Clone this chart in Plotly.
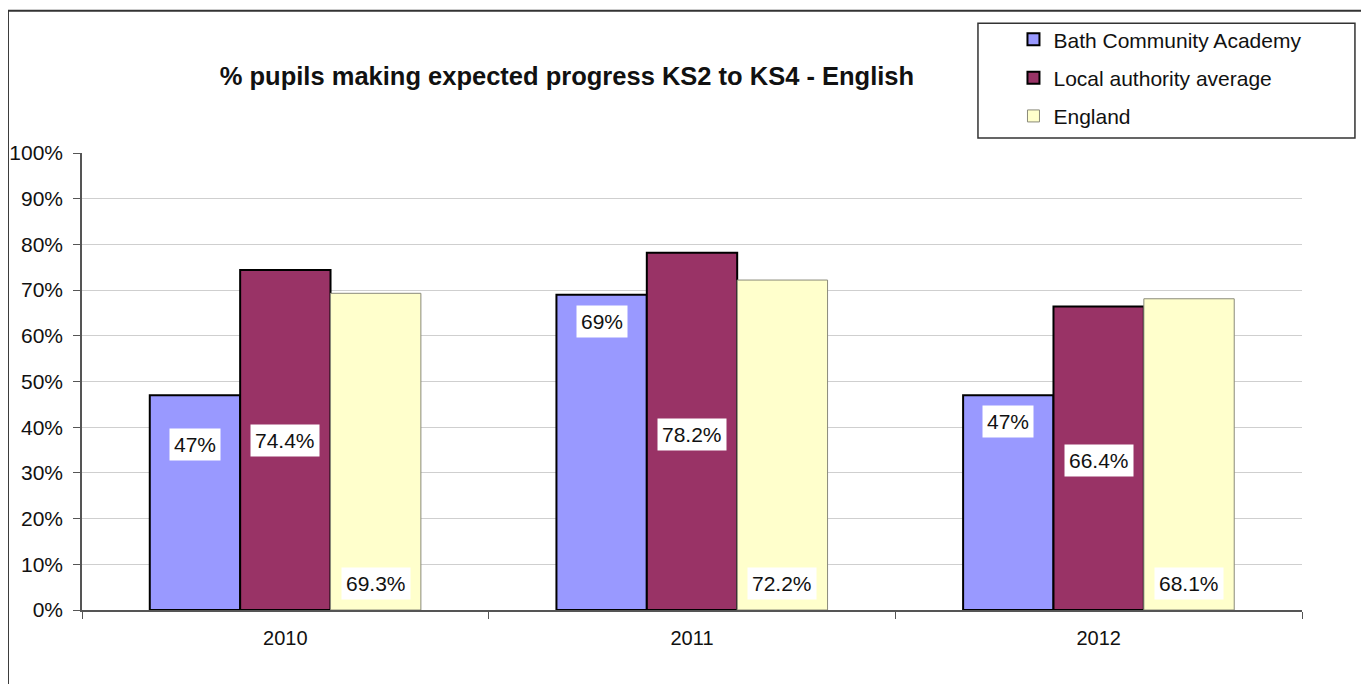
import plotly.graph_objects as go

# data
years = ["2010", "2011", "2012"]
bath = [47, 69, 47]
local_avg = [74.4, 78.2, 66.4]
england = [69.3, 72.2, 68.1]
bath_labels = ["47%", "69%", "47%"]
local_labels = ["74.4%", "78.2%", "66.4%"]
england_labels = ["69.3%", "72.2%", "68.1%"]

# where the (hand-moved) data labels sit, in axis units
bath_label_y = [36.2, 63.1, 41.3]
local_label_y = [37.1, 38.4, 32.8]
england_label_y = [5.9, 5.9, 5.9]

FONT = "Liberation Sans, Arial, sans-serif"

fig = go.Figure()
fig.add_bar(x=years, y=bath, name="Bath Community Academy",
            marker=dict(color="#9999FF", line=dict(color="#000000", width=2)),
            legendgroup="a")
fig.add_bar(x=years, y=local_avg, name="Local authority average",
            marker=dict(color="#993366", line=dict(color="#000000", width=2)),
            legendgroup="b")
fig.add_bar(x=years, y=england, name="England",
            marker=dict(color="#FFFFCC", line=dict(color="#8a8a7a", width=1)),
            legendgroup="c")

# data labels: white boxes, positioned by hand as in the original
bar_w = (1 - 1 / 3) / 3
for k, (labels, ys) in enumerate([(bath_labels, bath_label_y),
                                  (local_labels, local_label_y),
                                  (england_labels, england_label_y)]):
    for i, (t, yy) in enumerate(zip(labels, ys)):
        fig.add_annotation(
            x=i + (k - 1) * bar_w, y=yy, xref="x", yref="y",
            text=t, showarrow=False,
            font=dict(size=21, color="#111111", family=FONT),
            bgcolor="#ffffff", borderpad=4,
        )

# outer chart border and legend frame
fig.add_shape(type="rect", xref="paper", yref="paper",
              x0=-0.0607, x1=1.0500, y0=-0.2, y1=1.311,
              line=dict(color="#333333", width=2), layer="below")
fig.add_shape(type="rect", xref="paper", yref="paper",
              x0=0.7344, x1=1.0434, y0=1.0328, y1=1.2838,
              line=dict(color="#333333", width=1.5))

fig.update_xaxes(
    type="category", showline=True, linecolor="#555555", linewidth=1.5,
    ticks="outside", tickson="boundaries", ticklen=7, tickcolor="#555555",
    ticklabelstandoff=9, automargin=False,
    tickfont=dict(size=20, color="#111111", family=FONT),
)
fig.update_yaxes(
    range=[0, 100], dtick=10, ticksuffix="%",
    showline=True, linecolor="#555555", linewidth=1.5,
    ticks="outside", ticklen=7, tickcolor="#555555",
    ticklabelstandoff=6, automargin=False,
    showgrid=True, gridcolor="#cfcfcf", gridwidth=1.2,
    tickfont=dict(size=21, color="#111111", family=FONT),
)

# the page adds an 8px body margin, so the figure is shifted by that
fig.update_layout(
    width=1361, height=676,
    barmode="group", bargap=1 / 3, bargroupgap=0,
    paper_bgcolor="#ffffff", plot_bgcolor="#ffffff",
    margin=dict(l=74, r=67, t=144, b=74),
    title=dict(
        text="<b>% pupils making expected progress KS2 to KS4 - English</b>",
        x=0.3975, xref="paper", xanchor="center",
        y=1 - 68 / 676, yref="container", yanchor="middle",
        font=dict(size=25.5, color="#111111", family=FONT),
    ),
    legend=dict(
        x=0.7635, y=1.29, xanchor="left", yanchor="top",
        xref="paper", yref="paper",
        bgcolor="rgba(0,0,0,0)", borderwidth=0,
        font=dict(size=21, color="#111111", family=FONT),
        traceorder="grouped", tracegroupgap=8, itemwidth=30,
    ),
)

fig.write_html("out.html")
